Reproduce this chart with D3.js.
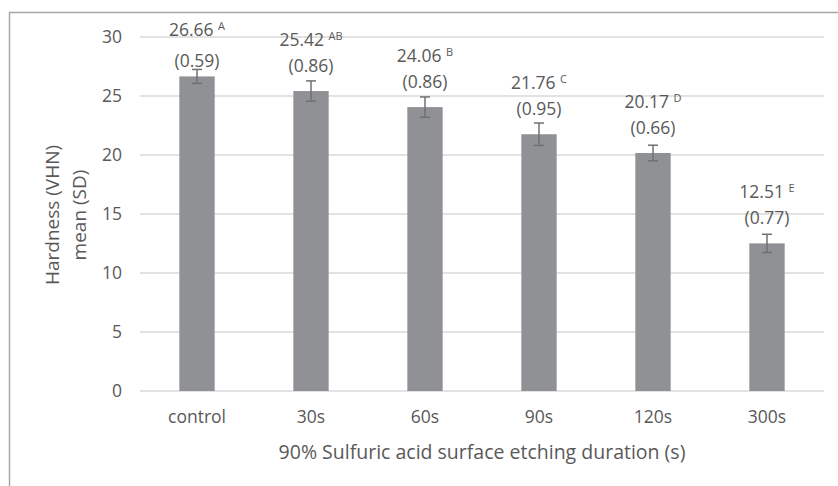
<!DOCTYPE html>
<html>
<head>
<meta charset="utf-8">
<script src="https://cdn.jsdelivr.net/npm/d3@7"></script>
<style>
  body { margin: 0; background: #fff; }
  text { font-family: "Open Sans", sans-serif; fill: #595959; }
</style>
</head>
<body>
<div id="chart"></div>
<script>
// values
var groups = ["control", "30s", "60s", "90s", "120s", "300s"];
var means = [26.66, 25.42, 24.06, 21.76, 20.17, 12.51];
var sds = [0.59, 0.86, 0.86, 0.95, 0.66, 0.77];
var letters = ["A", "AB", "B", "C", "D", "E"];
var yTicks = [0, 5, 10, 15, 20, 25, 30];

var width = 838, height = 486;
var margin = { top: 37, right: 14, bottom: 95, left: 140 };

var svg = d3.select("#chart").append("svg")
  .attr("width", width)
  .attr("height", height);

// chart frame (runs off right and bottom edge like the source crop)
svg.append("rect")
  .attr("x", 9.5).attr("y", 12.5)
  .attr("width", width + 20).attr("height", height + 20)
  .attr("fill", "none")
  .attr("stroke", "#a6a6a6")
  .attr("stroke-width", 1.5);

var x = d3.scaleBand()
  .domain(groups)
  .range([margin.left, width - margin.right])
  .paddingInner(0.69)
  .paddingOuter(0.345);

var y = d3.scaleLinear()
  .domain([0, 30])
  .range([height - margin.bottom, margin.top]);

// gridlines
svg.append("g")
  .selectAll("line")
  .data(yTicks)
  .enter().append("line")
  .attr("x1", margin.left).attr("x2", width - margin.right)
  .attr("y1", d => y(d)).attr("y2", d => y(d))
  .attr("stroke", "#d9d9d9")
  .attr("stroke-width", 1.3);

// y axis labels
var yAxis = d3.axisLeft(y).tickValues(yTicks).tickSize(0).tickPadding(18);
var yg = svg.append("g")
  .attr("transform", "translate(" + margin.left + ",0)")
  .call(yAxis);
yg.select(".domain").remove();
yg.selectAll("text").style("font-size", "17.5px").attr("fill", "#595959");

// x axis labels
var xAxis = d3.axisBottom(x).tickSize(0).tickPadding(20);
var xg = svg.append("g")
  .attr("transform", "translate(0," + y(0) + ")")
  .call(xAxis);
xg.select(".domain").remove();
xg.selectAll("text").style("font-size", "17.5px").attr("fill", "#595959");

// bars
svg.append("g")
  .selectAll("rect")
  .data(groups)
  .enter().append("rect")
  .attr("x", d => x(d))
  .attr("width", x.bandwidth())
  .attr("y", (d, i) => y(means[i]))
  .attr("height", (d, i) => y(0) - y(means[i]))
  .attr("fill", "#909195");

// error bars
var err = svg.append("g")
  .attr("stroke", "#707074")
  .attr("stroke-width", 1.5);
groups.forEach(function (g, i) {
  var cx = x(g) + x.bandwidth() / 2;
  var top = y(means[i] + sds[i]), bot = y(means[i] - sds[i]);
  err.append("line").attr("x1", cx).attr("x2", cx).attr("y1", top).attr("y2", bot);
  err.append("line").attr("x1", cx - 5).attr("x2", cx + 5).attr("y1", top).attr("y2", top);
  err.append("line").attr("x1", cx - 5).attr("x2", cx + 5).attr("y1", bot).attr("y2", bot);
});

// data labels: mean + letter, (sd)
// labels sit above the bar; if that pushes them past the top they get
// pinned below the frame with a bit more line spacing
var labels = svg.append("g");
groups.forEach(function (g, i) {
  var cx = x(g) + x.bandwidth() / 2;
  var line2 = y(means[i]) - 19;
  var line1 = line2 - 26;
  if (line1 < margin.top - 1) {
    line1 = margin.top - 1;
    line2 = line1 + 31;
  }
  var t = labels.append("text")
    .attr("x", cx).attr("y", line1)
    .attr("text-anchor", "middle")
    .style("font-size", "17.5px");
  t.append("tspan").text(means[i].toFixed(2) + " ");
  t.append("tspan")
    .attr("dy", -6)
    .style("font-size", "11px")
    .text(letters[i]);
  labels.append("text")
    .attr("x", cx).attr("y", line2)
    .attr("text-anchor", "middle")
    .style("font-size", "17.5px")
    .text("(" + sds[i].toFixed(2) + ")");
});

// axis titles
var plotMidY = (y(0) + y(30)) / 2;
var yt = svg.append("text")
  .attr("transform", "translate(59," + (plotMidY + 1) + ") rotate(-90)")
  .attr("text-anchor", "middle")
  .style("font-size", "19px");
yt.append("tspan").attr("x", 0).attr("dy", 0).text("Hardness (VHN)");
yt.append("tspan").attr("x", 0).attr("dy", 27).text("mean (SD)");

svg.append("text")
  .attr("x", (margin.left + width - margin.right) / 2)
  .attr("y", 459)
  .attr("text-anchor", "middle")
  .style("font-size", "19.5px")
  .text("90% Sulfuric acid surface etching duration (s)");
</script>
</body>
</html>
